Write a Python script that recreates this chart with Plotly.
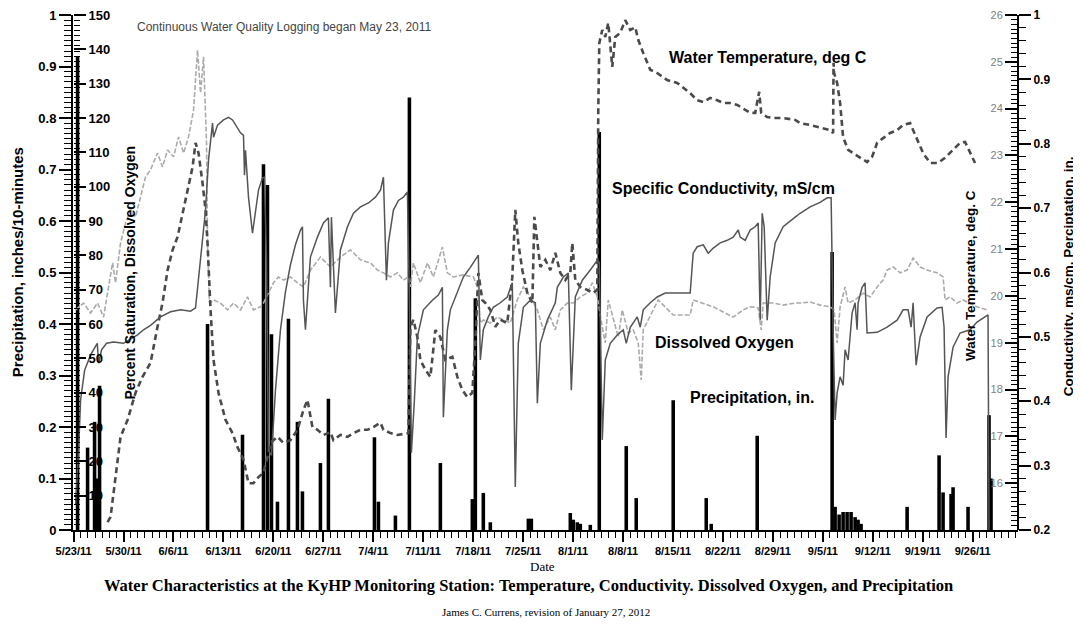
import pandas as pd
import plotly.graph_objects as go

START = pd.Timestamp("2011-05-23 00:00")
RANGE_START = START - pd.Timedelta(hours=2)
END = START + pd.Timedelta(days=132.35)

# ---- Precipitation, inches / 10 minutes (day offset from 5/23/11) ----
precip_day = [0.56, 1.96, 2.94, 3.22, 3.64, 18.77, 23.67, 26.61, 27.17, 27.73,
              28.57, 30.11, 31.37, 32.07, 34.59, 35.71, 42.16, 42.72, 45.10, 47.06,
              51.40, 55.88, 56.30, 57.42, 58.40, 63.73, 64.15, 69.61, 70.03, 70.59,
              71.01, 72.41, 73.67, 77.45, 78.85, 84.03, 88.66, 89.36, 95.80, 106.30,
              106.72, 107.28, 107.84, 108.40, 108.96, 109.52, 109.94, 110.36, 116.81, 121.29,
              121.85, 122.97, 123.25, 125.35, 128.29, 128.57]
precip_in = [0.92, 0.16, 0.21, 0.10, 0.28, 0.40, 0.185, 0.71, 0.67, 0.38,
             0.055, 0.41, 0.21, 0.075, 0.13, 0.255, 0.18, 0.055, 0.028, 0.84,
             0.13, 0.06, 0.45, 0.072, 0.015, 0.022, 0.022, 0.033, 0.02, 0.015,
             0.012, 0.01, 0.773, 0.163, 0.062, 0.252, 0.062, 0.012, 0.183, 0.54,
             0.045, 0.03, 0.035, 0.035, 0.035, 0.025, 0.02, 0.012, 0.045, 0.145,
             0.073, 0.07, 0.083, 0.045, 0.223, 0.10]

# ---- Dissolved oxygen, percent saturation ----
do_day = [0.28, 1.40, 2.38, 3.36, 4.20, 4.76, 5.46, 5.88, 6.58, 7.28,
          7.98, 8.68, 9.38, 10.08, 10.78, 11.76, 12.46, 13.17, 14.01, 14.71,
          15.41, 16.11, 16.81, 17.37, 17.79, 18.21, 18.63, 18.77, 19.05, 19.61,
          20.59, 21.57, 22.41, 23.39, 24.37, 25.21, 26.19, 26.61, 28.01, 28.71,
          29.41, 30.39, 31.37, 32.21, 33.19, 34.59, 35.99, 37.39, 38.80, 40.20,
          41.60, 42.58, 43.42, 44.40, 45.38, 46.22, 46.92, 47.20, 47.62, 48.60,
          49.58, 50.42, 51.68, 52.38, 53.22, 54.62, 56.02, 56.58, 57.00, 57.42,
          58.40, 59.38, 60.22, 61.20, 62.18, 63.03, 64.01, 64.99, 65.83, 66.81,
          67.51, 68.21, 69.19, 70.03, 71.01, 71.99, 72.69, 73.39, 74.09, 74.51,
          74.93, 75.63, 76.33, 76.89, 77.73, 78.43, 79.13, 79.55, 79.83, 80.53,
          81.23, 81.93, 84.03, 86.41, 86.83, 88.24, 89.64, 91.04, 92.44, 93.84,
          94.82, 95.94, 96.36, 96.64, 98.04, 99.44, 101.12, 101.82, 103.22, 104.62,
          106.02, 106.58, 107.00, 107.42, 108.12, 108.54, 109.52, 110.64, 111.62, 112.61,
          113.45, 114.01, 114.85, 115.83, 116.81, 117.65, 118.63, 119.61, 121.01, 121.85,
          122.13, 122.83, 123.81, 124.65, 125.63, 126.61, 128.01]
do_pct = [64.1, 66.1, 63.2, 66.1, 62.0, 69.0, 77.8, 72.0, 83.6, 89.4,
          93.2, 91.2, 97.0, 102.8, 104.9, 109.8, 105.7, 110.7, 108.7, 114.5,
          109.8, 114.5, 122.3, 139.8, 127.3, 137.8, 112.7, 83.6, 66.1, 67.0,
          66.1, 64.1, 66.1, 64.1, 67.9, 64.1, 65.0, 66.1, 72.0, 73.7,
          72.8, 73.7, 72.0, 70.8, 75.7, 79.5, 76.6, 79.5, 81.6, 78.7,
          77.8, 75.7, 74.9, 73.7, 74.9, 72.8, 73.7, 70.8, 77.8, 72.0,
          77.8, 73.7, 82.4, 74.9, 73.7, 74.3, 73.7, 70.8, 60.3, 61.2,
          60.3, 62.0, 61.2, 60.3, 67.0, 70.8, 67.9, 64.1, 58.3, 62.0,
          58.3, 64.1, 66.1, 66.1, 67.9, 69.0, 72.0, 67.9, 59.1, 54.5,
          67.0, 61.2, 56.2, 64.1, 57.4, 58.3, 54.5, 43.7, 58.3, 61.2,
          64.1, 67.0, 62.6, 62.6, 67.0, 66.1, 65.0, 63.5, 62.0, 64.1,
          65.0, 64.7, 58.3, 66.1, 66.1, 65.5, 66.1, 66.1, 66.4, 65.5,
          65.0, 64.1, 54.5, 65.0, 70.8, 66.1, 67.0, 69.0, 67.9, 70.8,
          72.8, 75.7, 76.6, 74.9, 75.7, 79.2, 76.6, 75.7, 74.9, 73.7,
          67.0, 67.9, 66.1, 67.0, 66.1, 65.0, 64.1]

# ---- Water temperature, deg C ----
temp_day = [4.76, 5.18, 5.88, 6.58, 7.56, 8.68, 9.66, 10.78, 11.76, 12.46,
            13.17, 13.87, 14.57, 15.27, 15.97, 16.67, 17.09, 17.51, 18.07, 18.49,
            18.77, 19.19, 19.61, 20.31, 21.29, 22.27, 22.97, 23.81, 24.51, 25.21,
            25.91, 26.61, 27.17, 27.59, 28.57, 29.41, 30.39, 31.37, 32.21, 32.77,
            33.47, 34.17, 35.01, 35.99, 36.41, 37.39, 38.38, 39.22, 40.20, 41.18,
            42.02, 43.00, 43.42, 44.40, 45.38, 46.92, 47.20, 47.62, 48.18, 48.60,
            49.30, 50.00, 50.70, 51.40, 52.10, 53.08, 53.78, 54.48, 55.18, 55.88,
            56.30, 56.72, 57.28, 57.70, 58.40, 59.10, 59.80, 60.78, 61.48, 61.90,
            62.32, 62.89, 63.59, 64.29, 64.57, 64.99, 65.41, 66.11, 66.81, 67.51,
            68.21, 68.91, 69.61, 69.89, 70.31, 71.01, 71.99, 72.83, 73.39, 73.53,
            73.67, 74.09, 74.51, 74.93, 75.49, 75.91, 76.61, 77.31, 78.01, 78.71,
            79.13, 79.83, 80.81, 81.79, 83.19, 84.59, 86.41, 87.39, 88.24, 89.22,
            90.20, 91.04, 92.02, 93.00, 94.12, 94.82, 95.52, 96.08, 96.36, 97.20,
            98.04, 99.44, 101.12, 101.82, 103.22, 104.62, 106.02, 106.44, 106.50, 106.58,
            107.00, 107.42, 107.84, 108.54, 109.24, 110.22, 111.20, 111.90, 112.61, 113.45,
            114.43, 115.41, 116.25, 117.23, 118.21, 119.05, 120.03, 121.15, 122.13, 123.25,
            124.23, 124.93, 125.63, 126.33]
temp_c = [15.17, 15.28, 16.13, 16.99, 17.35, 17.93, 18.27, 18.57, 19.34, 19.85,
          20.55, 20.98, 21.26, 21.77, 22.26, 22.75, 23.27, 23.05, 22.41, 21.84,
          21.13, 19.70, 18.63, 17.93, 17.35, 17.07, 16.77, 16.50, 16.00, 16.00,
          16.13, 16.22, 16.56, 16.86, 16.99, 16.86, 16.92, 17.14, 17.56, 17.78,
          17.20, 17.14, 17.03, 17.09, 16.92, 17.03, 16.99, 17.07, 17.14, 17.14,
          17.20, 17.29, 17.14, 17.07, 17.03, 17.07, 19.34, 19.49, 19.12, 18.63,
          18.42, 18.27, 19.27, 19.12, 18.63, 18.70, 18.27, 17.99, 17.84, 17.93,
          18.99, 20.49, 19.91, 19.85, 19.70, 19.34, 19.49, 19.42, 20.40, 21.84,
          21.13, 20.55, 20.06, 19.85, 21.69, 21.13, 20.62, 20.77, 20.55, 20.92,
          20.49, 20.34, 20.49, 21.13, 20.34, 20.19, 20.13, 20.06, 20.13, 23.97,
          25.40, 25.68, 25.53, 25.83, 24.89, 25.53, 25.62, 25.89, 25.68, 25.74,
          25.47, 25.19, 24.83, 24.76, 24.61, 24.55, 24.33, 24.18, 24.14, 24.23,
          24.18, 24.12, 24.12, 24.08, 23.97, 23.91, 23.91, 24.36, 23.91, 23.82,
          23.80, 23.80, 23.76, 23.69, 23.65, 23.59, 23.54, 23.48, 24.98, 24.76,
          24.55, 24.12, 23.39, 23.12, 23.05, 22.95, 22.86, 22.97, 23.27, 23.37,
          23.48, 23.54, 23.65, 23.69, 23.33, 23.05, 22.84, 22.84, 22.95, 23.12,
          23.27, 23.29, 23.05, 22.84]

# ---- Specific conductivity, mS/cm ----
cond_day = [0.28, 0.70, 0.98, 1.54, 2.38, 3.32, 3.50, 3.92, 4.62, 5.60,
            7.00, 8.96, 9.80, 10.78, 12.18, 13.59, 14.99, 16.39, 17.09, 17.51,
            18.07, 18.49, 18.91, 19.47, 19.61, 20.17, 21.01, 21.71, 22.27, 22.69,
            23.39, 23.81, 23.95, 24.09, 24.51, 25.07, 25.49, 25.91, 26.47, 26.75,
            27.03, 27.31, 27.73, 28.29, 28.99, 29.69, 30.39, 31.09, 31.79, 32.07,
            32.21, 32.49, 32.77, 33.19, 34.17, 35.01, 35.71, 35.99, 36.13, 36.41,
            36.69, 37.39, 38.38, 39.22, 40.20, 41.32, 42.30, 43.00, 43.42, 43.84,
            44.12, 44.82, 45.52, 46.22, 46.78, 47.06, 47.34, 47.76, 48.18, 49.02,
            50.28, 51.12, 51.68, 51.82, 52.38, 52.80, 53.78, 54.62, 55.60, 56.30,
            56.72, 57.00, 57.42, 58.12, 58.82, 59.80, 60.78, 61.48, 61.90, 62.32,
            63.03, 64.01, 64.71, 64.99, 65.41, 66.39, 67.51, 67.79, 68.63, 69.33,
            69.75, 70.31, 71.29, 72.41, 73.39, 73.67, 73.95, 74.09, 74.51, 75.21,
            76.19, 77.03, 77.45, 78.01, 78.99, 79.41, 79.83, 80.81, 81.79, 82.91,
            86.41, 86.83, 87.39, 88.24, 88.94, 89.64, 90.62, 91.60, 92.44, 93.14,
            93.42, 94.12, 94.82, 95.52, 95.94, 96.22, 96.50, 96.78, 97.20, 97.62,
            98.32, 99.44, 101.12, 101.82, 103.22, 104.62, 105.60, 106.16, 106.44, 106.72,
            107.00, 107.42, 107.84, 108.12, 108.54, 109.10, 109.52, 109.80, 109.94, 110.50,
            110.92, 111.20, 112.61, 114.01, 115.41, 116.25, 116.95, 117.37, 117.65, 118.07,
            118.63, 119.61, 121.01, 121.71, 121.99, 122.27, 122.55, 123.25, 124.23, 125.63,
            126.61, 127.45, 128.15, 128.29]
cond_mscm = [0.239, 0.324, 0.402, 0.448, 0.472, 0.490, 0.459, 0.480, 0.490, 0.492,
             0.490, 0.503, 0.511, 0.518, 0.531, 0.539, 0.542, 0.540, 0.545, 0.593,
             0.646, 0.697, 0.775, 0.832, 0.810, 0.829, 0.837, 0.841, 0.837, 0.829,
             0.817, 0.813, 0.751, 0.790, 0.717, 0.661, 0.697, 0.728, 0.747, 0.748,
             0.619, 0.324, 0.316, 0.417, 0.511, 0.570, 0.612, 0.643, 0.666, 0.671,
             0.557, 0.511, 0.557, 0.624, 0.655, 0.677, 0.685, 0.577, 0.686, 0.619,
             0.537, 0.635, 0.671, 0.692, 0.702, 0.708, 0.717, 0.728, 0.748, 0.588,
             0.646, 0.697, 0.712, 0.717, 0.725, 0.557, 0.320, 0.402, 0.500, 0.542,
             0.557, 0.565, 0.577, 0.375, 0.511, 0.542, 0.568, 0.593, 0.608, 0.619,
             0.627, 0.464, 0.511, 0.531, 0.546, 0.553, 0.562, 0.584, 0.267, 0.490,
             0.546, 0.557, 0.553, 0.397, 0.490, 0.526, 0.553, 0.577, 0.593, 0.599,
             0.417, 0.562, 0.588, 0.604, 0.619, 0.616, 0.371, 0.340, 0.464, 0.490,
             0.503, 0.511, 0.490, 0.515, 0.531, 0.515, 0.542, 0.553, 0.562, 0.568,
             0.568, 0.630, 0.640, 0.643, 0.630, 0.638, 0.646, 0.650, 0.655, 0.666,
             0.655, 0.650, 0.666, 0.671, 0.677, 0.526, 0.692, 0.671, 0.526, 0.593,
             0.646, 0.671, 0.686, 0.692, 0.702, 0.709, 0.716, 0.716, 0.511, 0.371,
             0.413, 0.438, 0.425, 0.480, 0.464, 0.537, 0.553, 0.511, 0.553, 0.577,
             0.584, 0.506, 0.507, 0.515, 0.526, 0.542, 0.542, 0.515, 0.553, 0.456,
             0.500, 0.531, 0.545, 0.546, 0.515, 0.343, 0.438, 0.484, 0.506, 0.511,
             0.523, 0.529, 0.534, 0.200]

SANS = "Liberation Sans, Arial, sans-serif"
SERIF = "Liberation Serif, Times New Roman, serif"
DAY_MS = 86400000


def to_dates(days):
    return [START + pd.Timedelta(days=d) for d in days]


fig = go.Figure()

fig.add_trace(go.Bar(
    x=to_dates(precip_day), y=precip_in, yaxis="y",
    width=0.5 * DAY_MS, marker=dict(color="black", line=dict(width=0)),
    name="Precipitation, in."))

fig.add_trace(go.Scatter(
    x=to_dates(do_day), y=do_pct, yaxis="y2", mode="lines",
    line=dict(color="#ababab", width=1.6, dash="5px,2px"),
    name="Dissolved Oxygen"))

fig.add_trace(go.Scatter(
    x=to_dates(cond_day), y=cond_mscm, yaxis="y4", mode="lines",
    line=dict(color="#555555", width=1.5),
    name="Specific Conductivity, mS/cm"))

fig.add_trace(go.Scatter(
    x=to_dates(temp_day), y=temp_c, yaxis="y3", mode="lines",
    line=dict(color="#4a4a4a", width=2.6, dash="6px,4px"),
    name="Water Temperature, deg C"))

bold_tick = dict(family=SANS, size=13, color="black", weight="bold")

# The page body adds an 8 px offset, so the figure is sized 8 px smaller.
fig.update_layout(
    width=1073, height=625,
    margin=dict(l=65, r=63, t=7, b=103, autoexpand=False),
    paper_bgcolor="white", plot_bgcolor="white",
    showlegend=False,
    font=dict(family=SANS, color="black"),
    xaxis=dict(
        type="date", range=[RANGE_START, END], automargin=False,
        tickmode="linear", tick0="2011-05-23", dtick=7 * DAY_MS,
        tickformat="%-m/%-d/%y", ticklabeloverflow="allow",
        ticks="outside", ticklen=10, tickwidth=1.5, tickcolor="black",
        minor=dict(dtick=DAY_MS, ticks="outside", ticklen=6, tickwidth=1,
                   tickcolor="black", showgrid=False),
        showline=True, linewidth=2, linecolor="black",
        showgrid=False, zeroline=False,
        tickfont=dict(family=SANS, size=11, color="black", weight="bold"),
    ),
    yaxis=dict(
        range=[0, 1], dtick=0.1, side="left", automargin=False,
        ticklabeloverflow="allow",
        ticks="outside", ticklen=12, tickwidth=1.5, tickcolor="black",
        minor=dict(dtick=0.01, ticks="outside", ticklen=7, tickwidth=1,
                   tickcolor="black", showgrid=False),
        showline=True, linewidth=2, linecolor="black",
        showgrid=False, zeroline=False, tickfont=bold_tick,
    ),
    yaxis2=dict(
        overlaying="y", side="right", anchor="free", position=0, automargin=False,
        ticklabeloverflow="allow",
        range=[0, 150], tickvals=list(range(10, 151, 10)),
        ticks="outside", ticklen=12, tickwidth=1.5, tickcolor="black",
        minor=dict(dtick=1.5, ticks="outside", ticklen=6, tickwidth=1,
                   tickcolor="black", showgrid=False),
        showline=False, showgrid=False, zeroline=False, tickfont=bold_tick,
    ),
    yaxis3=dict(
        overlaying="y", side="left", anchor="free", position=1, automargin=False,
        ticklabeloverflow="allow",
        range=[15, 26], tickvals=list(range(16, 27)),
        ticks="outside", ticklen=12, tickwidth=1.5, tickcolor="black",
        minor=dict(dtick=0.1, ticks="outside", ticklen=6, tickwidth=1,
                   tickcolor="black", showgrid=False),
        showline=True, linewidth=2, linecolor="black",
        showgrid=False, zeroline=False,
        tickfont=dict(family=SANS, size=11, color="#808080"),
    ),
    yaxis4=dict(
        overlaying="y", side="right", anchor="x", automargin=False,
        ticklabeloverflow="allow",
        range=[0.2, 1], dtick=0.1,
        ticks="outside", ticklen=12, tickwidth=1.5, tickcolor="black",
        minor=dict(dtick=0.02, ticks="outside", ticklen=7, tickwidth=1,
                   tickcolor="black", showgrid=False),
        showline=False, showgrid=False, zeroline=False,
        tickfont=dict(family=SANS, size=12, color="black", weight="bold"),
    ),
)

ann = []


def label(text, x, y, size, xanchor="left", angle=0, family=SANS, bold=True, color="black"):
    ann.append(dict(
        text=("<b>%s</b>" % text) if bold else text,
        x=x, y=y, xref="paper", yref="paper", xanchor=xanchor, yanchor="middle",
        textangle=angle, showarrow=False,
        font=dict(family=family, size=size, color=color)))


label("Continuous Water Quality Logging began May 23, 2011", 0.0656, 0.977, 12,
      bold=False, color="#444444")
label("Water Temperature, deg C", 0.6286, 0.918, 16)
label("Specific Conductivity, mS/cm", 0.5683, 0.664, 16)
label("Dissolved Oxygen", 0.6138, 0.365, 16)
label("Precipitation, in.", 0.6508, 0.258, 16)

label("Precipitation, inches/10-minutes", -0.0593, 0.52, 15, xanchor="center", angle=-90)
label("Percent Saturation, Dissolved Oxygen", 0.0603, 0.50, 14, xanchor="center", angle=-90)
label("Water Temperature, deg. C", 0.949, 0.495, 13.5, xanchor="center", angle=-90)
label("Conductivity, ms/cm, Perciptation, in.", 1.053, 0.493, 13.5, xanchor="center", angle=-90)

label("Date", 0.497, -0.07, 13, xanchor="center", family=SERIF, bold=False)
label("Water Characteristics at the KyHP Monitoring Station: Temperature, Conductivity. "
      "Dissolved Oxygen, and Precipitation", 0.4825, -0.107, 16.5, xanchor="center", family=SERIF)
label("James C. Currens, revision of January 27, 2012", 0.50, -0.16, 11,
      xanchor="center", family=SERIF, bold=False)

fig.update_layout(annotations=ann)

fig.write_html("out.html")
